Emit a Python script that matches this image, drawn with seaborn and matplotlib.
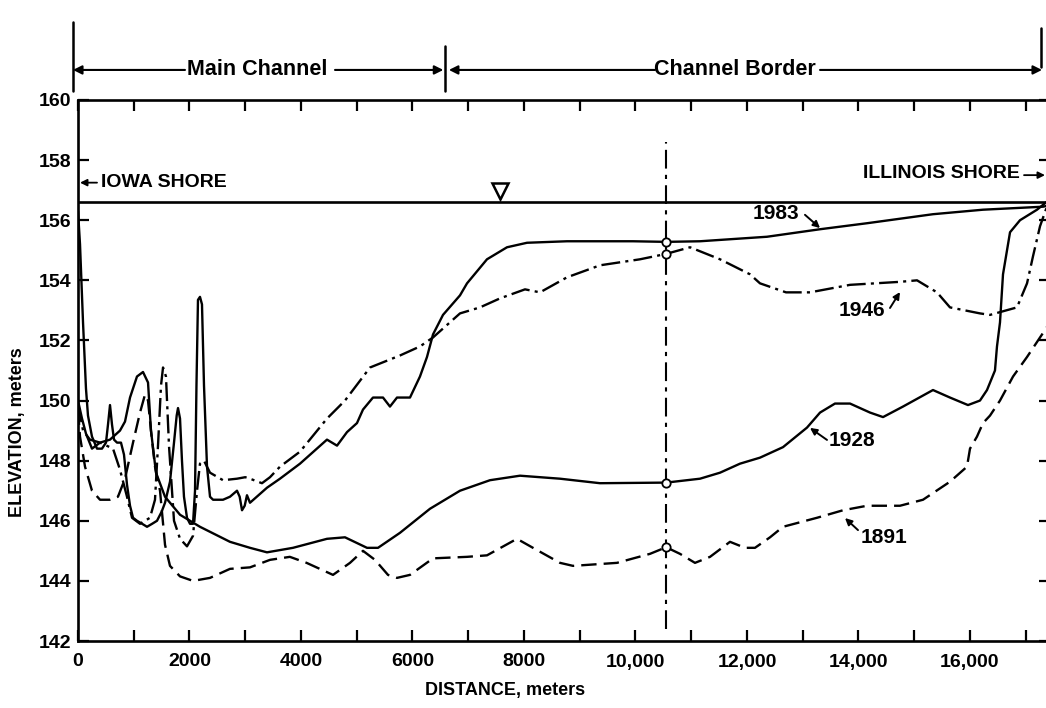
import matplotlib
matplotlib.use("Agg")
import matplotlib.pyplot as plt
import pandas as pd
import seaborn as sns

# Bed profiles across the river, Iowa shore (0 m) to Illinois shore
dist_1983 = [0, 36, 90, 143, 179, 251, 341, 430, 502, 538, 574, 610, 646, 700, 771, 825, 879, 933,
             987, 1058, 1150, 1238, 1330, 1417, 1500, 1561, 1650, 1722, 1770, 1794, 1830, 1865, 1901,
             1955, 2009, 2063, 2099, 2125, 2152, 2188, 2224, 2260, 2314, 2368, 2422, 2601, 2726, 2852,
             2900, 2942, 2990, 3031, 3085, 3390, 3623, 3982, 4466, 4646, 4825, 5004, 5112, 5291, 5471,
             5596, 5722, 5955, 6134, 6260, 6368, 6547, 6852, 6978, 7336, 7695, 8054, 8771, 9955, 10550,
             11157, 12359, 13310, 14153, 15336, 16233, 17310, 17435]
elev_1983 = [156.3, 155.2, 152.6, 150.4, 149.5, 148.8, 148.4, 148.4, 148.6, 149.2, 149.85, 149.2, 148.7,
             148.6, 148.6, 148.2, 147.2, 146.5, 146.1, 146.0, 145.9, 145.8, 145.9, 146.0, 146.3, 146.6,
             147.3, 148.6, 149.5, 149.75, 149.4, 148.0, 146.8, 146.1, 145.9, 145.9, 147.0, 150.5, 153.35,
             153.45, 153.2, 150.5, 147.8, 146.8, 146.7, 146.7, 146.8, 147.0, 146.8, 146.35, 146.5, 146.85,
             146.6, 147.1, 147.4, 147.9, 148.7, 148.5, 148.95, 149.25, 149.7, 150.1, 150.1, 149.8, 150.1,
             150.1, 150.8, 151.45, 152.2, 152.85, 153.5, 153.9, 154.7, 155.1, 155.25, 155.3, 155.3, 155.28,
             155.3, 155.45, 155.7, 155.9, 156.2, 156.35, 156.45, 156.5]

dist_1946 = [0, 90, 215, 395, 628, 753, 879, 969, 1112, 1291, 1381, 1435, 1489, 1525, 1578, 1632, 1722,
             1830, 1955, 2063, 2135, 2188, 2260, 2368, 2601, 2852, 3000, 3085, 3300, 3444, 3623, 3982,
             4466, 4789, 5238, 5776, 6134, 6368, 6852, 7211, 7570, 8018, 8287, 8771, 9363, 10081, 10550,
             10978, 11516, 12054, 12233, 12700, 13130, 13848, 14744, 15050, 15408, 15641, 16179, 16359,
             16843, 17023, 17130, 17256, 17370, 17435]
elev_1946 = [149.9, 149.0, 148.7, 148.6, 148.4, 147.7, 146.8, 146.1, 145.9, 146.1, 146.7, 148.5, 150.5,
             151.1, 150.8, 148.5, 146.0, 145.4, 145.15, 145.5, 147.0, 147.9, 148.0, 147.6, 147.35, 147.4,
             147.45, 147.4, 147.25, 147.45, 147.8, 148.3, 149.4, 150.0, 151.1, 151.5, 151.8, 152.1, 152.9,
             153.1, 153.4, 153.7, 153.6, 154.1, 154.5, 154.7, 154.88, 155.1, 154.7, 154.2, 153.9, 153.6,
             153.6, 153.85, 153.95, 154.0, 153.6, 153.1, 152.9, 152.85, 153.1, 153.9, 154.8, 155.8, 156.4,
             156.8]

dist_1928 = [0, 72, 143, 251, 395, 574, 753, 843, 933, 1058, 1166, 1256, 1309, 1399, 1561, 1830, 2188,
             2726, 3085, 3390, 3856, 4466, 4789, 5184, 5381, 5776, 6314, 6852, 7390, 7928, 8646, 9363,
             10550, 11157, 11516, 11874, 12233, 12646, 13076, 13310, 13578, 13848, 14207, 14440, 14798,
             15336, 15641, 15964, 16179, 16305, 16448, 16484, 16538, 16592, 16718, 16897, 17202, 17435]
elev_1928 = [150.0, 149.4, 148.9, 148.4, 148.6, 148.7, 149.0, 149.3, 150.1, 150.8, 150.95, 150.6, 149.0,
             147.6, 146.8, 146.2, 145.8, 145.3, 145.1, 144.95, 145.1, 145.4, 145.45, 145.1, 145.1, 145.6,
             146.4, 147.0, 147.35, 147.5, 147.4, 147.25, 147.27, 147.4, 147.6, 147.9, 148.1, 148.45,
             149.1, 149.6, 149.9, 149.9, 149.6, 149.45, 149.8, 150.35, 150.1, 149.85, 150.0, 150.35,
             151.0, 151.8, 152.6, 154.2, 155.6, 156.0, 156.35, 156.7]

dist_1891 = [0, 36, 126, 251, 395, 574, 717, 843, 987, 1112, 1202, 1256, 1309, 1381, 1471, 1561, 1650,
             1830, 2063, 2368, 2726, 3085, 3444, 3800, 4100, 4574, 4879, 5112, 5327, 5560, 5722, 5955,
             6368, 6978, 7336, 7874, 8161, 8646, 8879, 9668, 10260, 10550, 10798, 11067, 11337, 11695,
             11964, 12143, 12413, 12646, 13256, 13722, 14153, 14744, 15157, 15641, 15946, 16000, 16125,
             16233, 16359, 16538, 16772, 17023, 17310, 17435]
elev_1891 = [149.7, 148.8, 147.8, 147.0, 146.7, 146.7, 146.8, 147.4, 148.6, 149.6, 150.2, 150.0, 149.0,
             147.8, 147.0, 145.2, 144.5, 144.15, 144.0, 144.1, 144.4, 144.45, 144.7, 144.8, 144.6, 144.2,
             144.6, 145.0, 144.7, 144.2, 144.1, 144.2, 144.75, 144.8, 144.85, 145.4, 145.1, 144.6, 144.5,
             144.6, 144.9, 145.12, 144.9, 144.6, 144.8, 145.3, 145.1, 145.1, 145.45, 145.8, 146.1, 146.35,
             146.5, 146.5, 146.7, 147.3, 147.8, 148.4, 148.8, 149.25, 149.5, 150.0, 150.8, 151.45, 152.25,
             152.6]

surveys = ["1983", "1946", "1928", "1891"]
x_ticks = [0, 2000, 4000, 6000, 8000, 10000, 12000, 14000, 16000]
x_tick_labels = ["0", "2000", "4000", "6000", "8000", "10,000", "12,000", "14,000", "16,000"]
y_ticks = [142, 144, 146, 148, 150, 152, 154, 156, 158, 160]

water_surface = 156.6
water_marker_at = 7570
section_line_at = 10550
section_elevs = [155.28, 154.88, 147.27, 145.12]
main_channel_edge = 6583

frames = []
for name, d, e in [("1983", dist_1983, elev_1983), ("1946", dist_1946, elev_1946),
                   ("1928", dist_1928, elev_1928), ("1891", dist_1891, elev_1891)]:
    frames.append(pd.DataFrame({"distance": d, "elevation": e, "survey": name}))
profiles = pd.concat(frames, ignore_index=True)

sns.set_theme(style="ticks")
plt.rcParams["font.family"] = ["Liberation Sans", "DejaVu Sans"]
plt.rcParams["text.color"] = "black"
plt.rcParams["axes.labelcolor"] = "black"
plt.rcParams["xtick.color"] = "black"
plt.rcParams["ytick.color"] = "black"
plt.rcParams["xtick.labelcolor"] = "black"
plt.rcParams["ytick.labelcolor"] = "black"
plt.rcParams["lines.solid_joinstyle"] = "round"
plt.rcParams["lines.dash_joinstyle"] = "round"
label_font = ["Liberation Sans", "DejaVu Sans"]

fig = plt.figure(figsize=(10.46, 7.08), dpi=100)
ax = fig.add_axes([78 / 1046, 67 / 708, 972 / 1046, 541 / 708])
X_MAX = 17435
ax.set_xlim(0, X_MAX)
ax.set_ylim(142, 160)

line_styles = {"1983": "", "1928": "", "1946": (8, 2.2, 1.3, 2.2), "1891": (6.5, 3)}
sns.lineplot(data=profiles, x="distance", y="elevation", hue="survey", style="survey",
             palette={s: "black" for s in surveys}, dashes=line_styles, linewidth=1.7,
             estimator=None, sort=False, legend=False, ax=ax)

# water surface and marker
ax.plot([0, X_MAX], [water_surface, water_surface], color="black", lw=1.9)
ax.plot([water_marker_at], [water_surface + 0.38], marker="v", ms=12, mfc="white",
        mec="black", mew=1.8, ls="none", clip_on=False)

# measured section line with survey points
ax.plot([section_line_at, section_line_at], [142.4, 158.6], color="black", lw=1.5,
        dashes=(9, 3, 2, 3))
ax.plot([section_line_at] * len(section_elevs), section_elevs, ls="none", marker="o", ms=6,
        mfc="white", mec="black", mew=1.3, zorder=5)

# axes styling
for side in ["left", "right", "top", "bottom"]:
    ax.spines[side].set_linewidth(1.9)
    ax.spines[side].set_color("black")
ax.set_xticks(x_ticks)
ax.set_xticklabels(x_tick_labels)
ax.set_xticks(list(range(1000, 18000, 2000)), minor=True)
ax.set_yticks(y_ticks)
ax.set_yticklabels([str(v) for v in y_ticks])
ax.tick_params(axis="both", which="both", direction="in", top=True, right=True,
               width=1.6, length=8, colors="black", labelcolor="black")
ax.tick_params(axis="x", which="major", pad=9)
ax.tick_params(axis="y", which="major", pad=5)
for lbl in ax.get_xticklabels() + ax.get_yticklabels():
    lbl.set_fontsize(14)
    lbl.set_fontweight("bold")
    lbl.set_color("black")
ax.set_xlabel("")
ax.set_ylabel("")
fig.text(505 / 1046, 1 - 690 / 708, "DISTANCE, meters", ha="center", va="center",
         fontsize=13, fontweight="bold", color="black")
fig.text(18 / 1046, 1 - 432 / 708, "ELEVATION, meters", ha="center", va="center",
         rotation=90, fontsize=13, fontweight="bold", color="black")

# channel zone annotations above the frame
arrow_kw = dict(arrowstyle="-|>", color="black", lw=1.5, mutation_scale=13,
                shrinkA=0, shrinkB=0)
zone_y = 161.0
for tail, head in [(1919, -90), (4610, main_channel_edge - 30), (10350, main_channel_edge + 70),
                   (13310, 17292)]:
    ax.annotate("", xy=(head, zone_y), xytext=(tail, zone_y), arrowprops=arrow_kw,
                annotation_clip=False)
ax.plot([-90, -90], [160.3, 162.6], color="black", lw=1.8, clip_on=False)
ax.plot([main_channel_edge, main_channel_edge], [160.3, 161.8], color="black", lw=1.8,
        clip_on=False)
ax.plot([17274, 17274], [161.1, 162.4], color="black", lw=1.8, clip_on=False)
ax.text(3211, zone_y, "Main Channel", ha="center", va="center", fontsize=15.5,
        fontweight="bold", family=label_font, clip_on=False)
ax.text(11785, zone_y, "Channel Border", ha="center", va="center", fontsize=15.5,
        fontweight="bold", family=label_font, clip_on=False)

# shore labels
ax.annotate("", xy=(36, 157.25), xytext=(341, 157.25),
            arrowprops=dict(arrowstyle="-|>", color="black", lw=1.3, mutation_scale=10,
                            shrinkA=0, shrinkB=0))
ax.text(412, 157.25, "IOWA SHORE", ha="left", va="center", fontsize=14, fontweight="bold",
        family=label_font)
ax.text(16897, 157.55, "ILLINOIS SHORE", ha="right", va="center", fontsize=14,
        fontweight="bold", family=label_font)
ax.annotate("", xy=(17345, 157.5), xytext=(16969, 157.5),
            arrowprops=dict(arrowstyle="-|>", color="black", lw=1.3, mutation_scale=10,
                            shrinkA=0, shrinkB=0))

# survey year labels with pointers
year_labels = [("1983", 12520, 156.24, (13040, 156.18), (13310, 155.74)),
               ("1946", 14063, 152.98, (14565, 153.08), (14744, 153.61)),
               ("1928", 13884, 148.66, (13435, 148.69), (13130, 149.09)),
               ("1891", 14457, 145.43, (13991, 145.69), (13758, 146.09))]
for text, tx, ty, tail, head in year_labels:
    ax.text(tx, ty, text, ha="center", va="center", fontsize=15, fontweight="bold",
            family=label_font)
    ax.annotate("", xy=head, xytext=tail,
                arrowprops=dict(arrowstyle="-|>", color="black", lw=1.4, mutation_scale=10,
                                shrinkA=0, shrinkB=0))

fig.savefig("out.png", dpi=100, facecolor="white")
